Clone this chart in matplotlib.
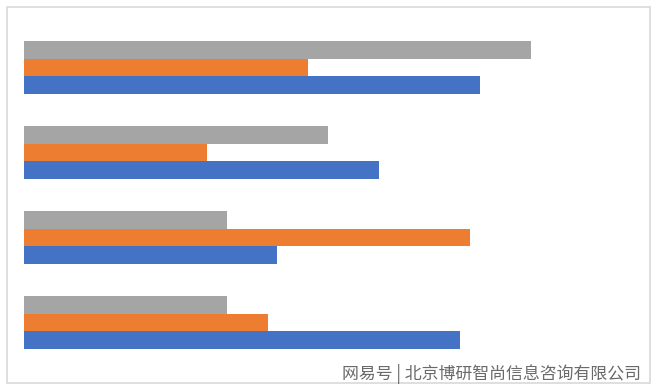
import matplotlib
matplotlib.use("Agg")
import matplotlib.pyplot as plt
from matplotlib.patches import Rectangle
import numpy as np

plt.rcParams['font.family'] = ['Noto Sans CJK SC', 'DejaVu Sans']

categories = ["D", "C", "B", "A"]  # bottom to top
blue = [436, 253, 355, 456]
orange = [244, 446, 183, 284]
gray = [203, 203, 304, 507]

fig = plt.figure(figsize=(6.6, 3.92), dpi=100)
W, H = 660, 392
ax = fig.add_axes([24 / W, (H - 365) / H, 616 / W, 340 / H])

y = np.arange(len(categories))
h = 0.208
ax.barh(y - h, blue, height=h, color="#4472c4")
ax.barh(y, orange, height=h, color="#ed7d31")
ax.barh(y + h, gray, height=h, color="#a5a5a5")
ax.set_xlim(0, 616)
ax.set_ylim(-0.5, 3.5)
ax.axis("off")

fig.patches.append(Rectangle((7 / W, (H - 383) / H), 643 / W, 376 / H,
                             transform=fig.transFigure, fill=False,
                             edgecolor="#d9d9d9", linewidth=1.2))

fig.text(641 / W, (H - 374) / H, "网易号 | 北京博研智尚信息咨询有限公司",
         ha="right", va="center", fontsize=12.2, color="#6a6a6a")

fig.savefig("out.png", dpi=100)
